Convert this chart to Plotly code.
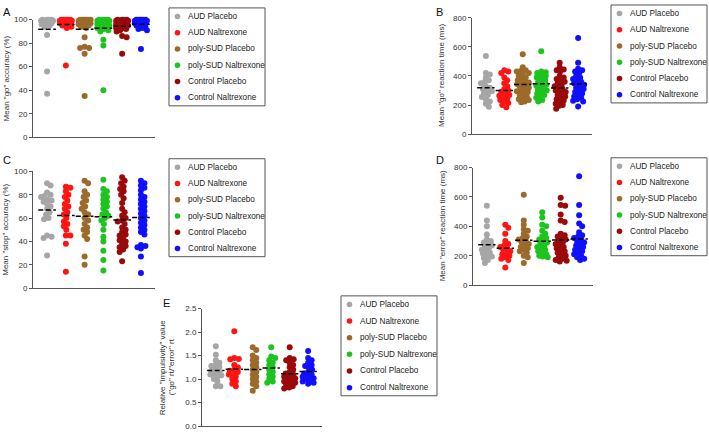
import numpy as np
import plotly.graph_objects as go

W, H = 709, 437

groups = ["AUD Placebo", "AUD Naltrexone", "poly-SUD Placebo",
          "poly-SUD Naltrexone", "Control Placebo", "Control Naltrexone"]
colors = ["#a6a6a6", "#ff1414", "#9c6a2a", "#1ec41e", "#9a0a0a", "#1010ff"]

# Panel A: Mean "go" accuracy (%)
go_accuracy = [
    [100, 100, 100, 100, 99, 99, 99, 98, 98, 98, 97, 97, 96, 96, 95, 94, 87, 56, 37],
    [100, 100, 100, 100, 100, 99, 99, 99, 98, 98, 98, 97, 97, 97, 96, 96, 95, 94, 93, 61],
    [100, 100, 100, 100, 100, 100, 99, 99, 99, 99, 98, 98, 98, 97, 97, 97, 96, 96, 95, 95, 94, 93, 85, 77, 76, 76, 71, 35],
    [100, 100, 100, 100, 99, 99, 99, 98, 98, 97, 97, 96, 96, 95, 95, 94, 93, 92, 91, 90, 83, 78, 40],
    [100, 100, 100, 100, 99, 99, 99, 98, 98, 97, 97, 96, 96, 95, 95, 94, 93, 93, 92, 91, 90, 86, 85, 71],
    [100, 100, 100, 100, 100, 99, 99, 99, 99, 98, 98, 98, 97, 97, 97, 96, 96, 95, 95, 94, 93, 92, 91, 75],
]
# Panel B: Mean "go" reaction time (ms)
go_rt = [
    [538, 420, 410, 390, 370, 360, 350, 330, 320, 310, 300, 295, 280, 270, 255, 240, 225, 210, 188],
    [440, 430, 420, 390, 370, 350, 330, 310, 300, 290, 280, 270, 265, 255, 245, 235, 225, 215, 200, 185],
    [550, 460, 440, 435, 430, 420, 410, 400, 390, 380, 370, 360, 355, 350, 345, 340, 335, 330, 320, 310, 300, 295, 290, 280, 270, 260, 250, 240, 235, 225, 220],
    [570, 430, 425, 420, 415, 410, 400, 390, 380, 370, 360, 350, 340, 335, 330, 320, 310, 300, 290, 280, 270, 260, 250, 235, 225],
    [490, 460, 445, 440, 430, 400, 390, 380, 370, 360, 350, 340, 330, 320, 310, 300, 295, 290, 280, 270, 260, 250, 240, 230, 220, 210, 200, 195, 175],
    [660, 490, 450, 440, 430, 420, 400, 390, 380, 370, 360, 350, 345, 340, 330, 320, 310, 300, 290, 280, 270, 260, 250, 240, 230, 225, 190],
]
# Panel C: Mean "stop" accuracy (%)
stop_accuracy = [
    [90, 88, 82, 80, 79, 78, 76, 75, 74, 72, 70, 68, 65, 63, 60, 59, 45, 44, 43, 28],
    [87, 86, 83, 80, 78, 75, 72, 70, 68, 65, 63, 60, 57, 55, 53, 50, 45, 45, 38, 14],
    [92, 90, 83, 80, 78, 75, 73, 70, 68, 65, 63, 60, 58, 55, 52, 50, 48, 45, 42, 27, 20],
    [93, 85, 83, 80, 78, 76, 74, 72, 70, 68, 65, 63, 62, 60, 58, 55, 50, 44, 40, 32, 24, 15],
    [95, 92, 90, 87, 85, 83, 80, 77, 73, 68, 65, 62, 60, 58, 57, 55, 52, 50, 48, 46, 45, 43, 41, 40, 38, 36, 35, 33, 31, 23],
    [92, 90, 88, 86, 84, 80, 78, 76, 74, 72, 70, 68, 66, 64, 62, 60, 58, 56, 54, 52, 50, 48, 46, 37, 36, 35, 34, 27, 13],
]
# Panel D: Mean "error" reaction time (ms)
error_rt = [
    [540, 440, 400, 345, 310, 300, 290, 280, 270, 260, 250, 240, 230, 220, 215, 205, 195, 185, 170, 150],
    [410, 390, 350, 300, 280, 270, 260, 250, 240, 230, 220, 210, 200, 190, 180, 170, 120],
    [615, 440, 410, 380, 370, 350, 330, 320, 310, 300, 290, 280, 270, 260, 250, 240, 230, 220, 200, 190, 150],
    [495, 460, 410, 400, 370, 350, 330, 320, 310, 300, 290, 280, 270, 260, 250, 240, 230, 220, 210, 200, 195, 190],
    [595, 545, 540, 480, 440, 430, 350, 340, 330, 320, 310, 300, 290, 280, 270, 260, 250, 240, 230, 220, 210, 200, 190, 180, 170, 165, 160],
    [740, 545, 475, 420, 400, 360, 340, 330, 320, 310, 300, 290, 280, 270, 260, 250, 240, 230, 220, 210, 200, 190, 180, 170],
]
# Panel E: Relative "impulsivity" value ("go" rt/"error" rt)
impulsivity = [
    [1.70, 1.52, 1.40, 1.35, 1.30, 1.28, 1.25, 1.20, 1.18, 1.15, 1.12, 1.10, 1.08, 1.05, 1.00, 0.95, 0.85, 0.85],
    [2.02, 1.45, 1.43, 1.42, 1.30, 1.25, 1.20, 1.18, 1.15, 1.12, 1.10, 1.05, 1.00, 0.95, 0.90, 0.85],
    [1.68, 1.62, 1.50, 1.45, 1.40, 1.35, 1.30, 1.25, 1.20, 1.15, 1.10, 1.05, 1.00, 0.95, 0.90, 0.85, 0.75],
    [1.68, 1.48, 1.45, 1.40, 1.35, 1.30, 1.25, 1.20, 1.15, 1.10, 1.05, 1.00, 0.95, 0.92],
    [1.68, 1.45, 1.42, 1.40, 1.35, 1.30, 1.25, 1.20, 1.15, 1.12, 1.10, 1.08, 1.05, 1.02, 1.00, 0.98, 0.95, 0.92, 0.90, 0.88, 0.85, 0.82, 0.80],
    [1.60, 1.45, 1.40, 1.35, 1.30, 1.28, 1.25, 1.20, 1.15, 1.12, 1.10, 1.08, 1.05, 1.02, 1.00, 0.98, 0.95, 0.92, 0.90],
]

FONT = "Arial, Liberation Sans, sans-serif"

panels = [
    dict(data=go_accuracy, xl=33, xr=155, yb=136, yt=16, ymax=100, dtick=20, fmt="d",
         label="A", lab=(7, 8), title=['Mean "go" accuracy (%)'], tx=[6],
         leg=(169, 4, 265, 104)),
    dict(data=go_rt, xl=472, xr=592, yb=133, yt=14, ymax=800, dtick=200, fmt="d",
         label="B", lab=(439, 8), title=['Mean "go" reaction time (ms)'], tx=[442],
         leg=(611, 1, 707, 101)),
    dict(data=stop_accuracy, xl=33, xr=155, yb=290, yt=171, ymax=100, dtick=20, fmt="d",
         label="C", lab=(7, 159), title=['Mean "stop" accuracy (%)'], tx=[6],
         leg=(169, 158, 265, 258)),
    dict(data=error_rt, xl=473, xr=593, yb=287, yt=167, ymax=800, dtick=200, fmt="d",
         label="D", lab=(440, 159), title=['Mean "error" reaction time (ms)'], tx=[442],
         leg=(611, 157, 707, 257)),
    dict(data=impulsivity, xl=202, xr=322, yb=431, yt=311, ymax=2.5, dtick=0.5, fmt=".1f",
         label="E", lab=(166, 305), title=['Relative "impulsivity" value', '("go" rt/"error" rt'], tx=[162, 171],
         leg=(341, 298, 437, 400)),
]

XMIN, XMAX = -0.75, 5.75


def swarm(vals, ppu_y, ppu_x, d=4.2, maxoff=6.0):
    vals = np.asarray(vals, dtype=float)
    ypx = vals * ppu_y
    cands = [0.0]
    k = 0.5
    while k <= maxoff + 1e-9:
        cands += [k, -k]
        k += 0.5
    placed = []
    offs = np.zeros(len(vals))
    for i in np.argsort(-vals, kind="stable"):
        best, bestd = 0.0, -1.0
        for c in cands:
            if placed:
                dist = min(np.hypot(c - px, ypx[i] - py) for px, py in placed)
            else:
                dist = 1e9
            if dist >= d:
                best = c
                break
            if dist > bestd + 0.3:
                best, bestd = c, dist
        placed.append((best, ypx[i]))
        offs[i] = best / ppu_x
    return offs


fig = go.Figure()
shapes = []
annotations = []
layout_axes = {}


def px2x(x):
    return x / W


def px2y(y):
    return 1 - y / H


for pi, p in enumerate(panels):
    n = pi + 1
    xa = "x" if n == 1 else f"x{n}"
    ya = "y" if n == 1 else f"y{n}"
    ppu_x = (p["xr"] - p["xl"]) / (XMAX - XMIN)
    ppu_y = (p["yb"] - p["yt"]) / p["ymax"]
    for gi, vals in enumerate(p["data"]):
        offs = swarm(vals, ppu_y, ppu_x)
        fig.add_trace(go.Scatter(
            x=gi + offs, y=vals, mode="markers", xaxis=xa, yaxis=ya,
            marker=dict(size=6, color=colors[gi], line=dict(width=0)),
            name=groups[gi], showlegend=False, cliponaxis=False,
            hovertemplate=groups[gi] + ": %{y}<extra></extra>"))
    for gi, vals in enumerate(p["data"]):
        m = float(np.mean(vals))
        fig.add_trace(go.Scatter(
            x=[gi - 0.47, gi + 0.47], y=[m, m], mode="lines", xaxis=xa, yaxis=ya,
            line=dict(color="black", width=1.5, dash="5px,2.5px"),
            showlegend=False, hoverinfo="skip", cliponaxis=False))
    xdom = [px2x(p["xl"]), px2x(p["xr"])]
    ydom = [px2y(p["yb"]), px2y(p["yt"])]
    xkey = "xaxis" if n == 1 else f"xaxis{n}"
    ykey = "yaxis" if n == 1 else f"yaxis{n}"
    layout_axes[xkey] = dict(domain=xdom, range=[XMIN, XMAX], anchor=ya,
                             showgrid=False, zeroline=False, showticklabels=False,
                             ticks="", showline=True, linecolor="#555", linewidth=1)
    layout_axes[ykey] = dict(domain=ydom, range=[0, p["ymax"]], anchor=xa,
                             showgrid=False, zeroline=False, showline=True,
                             linecolor="#555", linewidth=1, ticks="outside",
                             ticklen=3, tickcolor="#555", dtick=p["dtick"], tick0=0,
                             tickformat=p["fmt"],
                             tickfont=dict(family=FONT, size=8, color="#333"))
    annotations.append(dict(x=px2x(p["lab"][0]), y=px2y(p["lab"][1]), xref="paper", yref="paper",
                            text=p["label"], showarrow=False, xanchor="center", yanchor="middle",
                            font=dict(family=FONT, size=11, color="#111")))
    ymid = (p["yb"] + p["yt"]) / 2
    for line, tx in zip(p["title"], p["tx"]):
        annotations.append(dict(x=px2x(tx), y=px2y(ymid), xref="paper", yref="paper",
                                text=line, showarrow=False, textangle=-90,
                                xanchor="center", yanchor="middle",
                                font=dict(family=FONT, size=8, color="#333")))
    x0, y0, x1, y1 = p["leg"]
    shapes.append(dict(type="rect", xref="paper", yref="paper",
                       x0=px2x(x0), x1=px2x(x1), y0=px2y(y1), y1=px2y(y0),
                       line=dict(color="#555", width=1), fillcolor="white", layer="below"))
    step = (y1 - y0 - 17) / 5
    for gi in range(6):
        cy = y0 + 8.7 + gi * step
        cx = x0 + 8.5
        r = 2.8
        shapes.append(dict(type="circle", xref="paper", yref="paper",
                           x0=px2x(cx - r), x1=px2x(cx + r), y0=px2y(cy + r), y1=px2y(cy - r),
                           fillcolor=colors[gi], line=dict(width=0)))
        annotations.append(dict(x=px2x(x0 + 17), y=px2y(cy), xref="paper", yref="paper",
                                text=groups[gi], showarrow=False, xanchor="left", yanchor="middle",
                                font=dict(family=FONT, size=8.2, color="#222")))

fig.update_layout(
    width=W, height=H, margin=dict(l=0, r=0, t=0, b=0),
    plot_bgcolor="white", paper_bgcolor="white",
    showlegend=False, shapes=shapes, annotations=annotations,
    font=dict(family=FONT), **layout_axes)

fig.write_html("out.html", config={"displayModeBar": False},
               post_script="document.body.style.margin='0';")
